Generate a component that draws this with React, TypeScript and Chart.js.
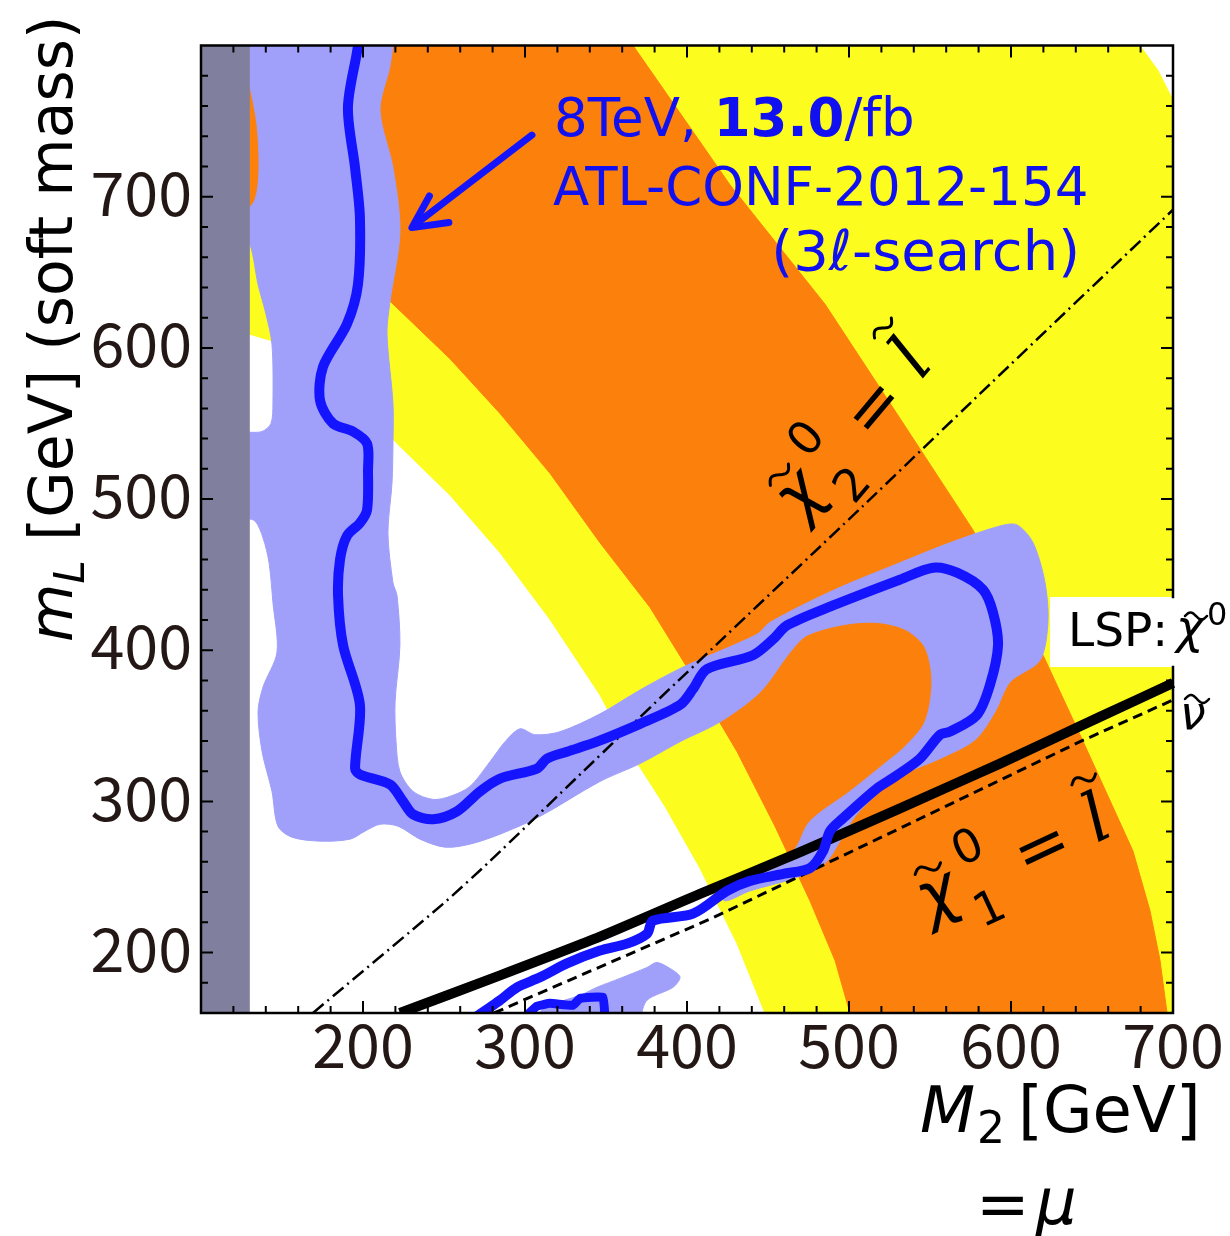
import React, { useEffect, useRef } from 'react';
import { Chart, registerables } from 'chart.js';

Chart.register(...registerables);

// ---------- axes ----------
const X_MIN = 100;
const X_MAX = 700;
const Y_MIN = 160;
const Y_MAX = 800;
const xTickLabels = [200, 300, 400, 500, 600, 700];
const yTickLabels = [200, 300, 400, 500, 600, 700];

// ---------- filled regions (M2, mL) ----------
const yellowRegion = [
  [90, 810], [90, 609.2], [129.6, 609.2], [161.1, 599.3], [192.0, 573.0], [221.0, 536.8],
  [253.7, 502.6], [284.6, 464.5], [315.4, 420.4], [346.3, 370.4], [364.8, 332.9],
  [386.4, 296.7], [408.0, 255.9], [430.9, 205.9], [448.1, 160.0], [451.8, 150],
  [710, 150], [710, 742.5], [700, 763.8], [690.7, 783.6], [679.6, 800], [675, 810],
];
const orangeRegion = [
  [90, 810], [90, 688.2], [129.6, 688.2], [161.1, 668.4], [192.0, 648.7], [216.7, 630.9],
  [253.7, 592.8], [284.6, 556.6], [315.4, 517.1], [346.3, 471.1], [377.2, 428.3],
  [401.9, 385.5], [430.9, 332.9], [454.3, 283.6], [475.9, 234.2], [491.4, 194.7],
  [500.6, 160.0], [503, 150], [697.5, 150], [696.3, 160.0], [692.0, 194.7], [685.8, 227.6],
  [675.3, 267.1], [642.6, 344.1], [619.8, 396.7], [576.5, 479.6], [531.5, 553.3],
  [485.2, 628.9], [426.5, 707.9], [375.3, 786.8], [366.7, 800], [360.2, 810],
];
const lavenderRegion = [
  [124.1, 813.2], [129.6, 777.0], [134.6, 747.4], [135.8, 717.8], [133.3, 698.0], [124.1, 684.9],
  [124.1, 673.7], [130.2, 668.4], [135.2, 642.1], [140.1, 622.4], [143.8, 602.6], [144.4, 563.2],
  [143.2, 550.0], [137.7, 544.7], [124.1, 542.1], [124.1, 489.5], [133.3, 485.5], [138.3, 474.3],
  [142.0, 457.9], [144.4, 431.6], [146.9, 398.7], [138.3, 375.7], [135.2, 359.2], [137.7, 332.9],
  [143.8, 306.6], [147.5, 283.6], [156.2, 276.3], [173.5, 273.7], [192.0, 275.0], [201.2, 280.3],
  [210.5, 284.9], [221.6, 283.6], [235.2, 275.0], [250.6, 269.7], [266.0, 271.7], [284.6, 278.3],
  [309.3, 290.1], [346.3, 313.2], [371.0, 325.0], [395.7, 339.5], [420.4, 352.6], [445.1, 372.4],
  [463.6, 398.7], [474.1, 409.9], [497.5, 417.1], [517.3, 418.4], [534.6, 413.8], [546.9, 402.0],
  [551.2, 379.0], [546.9, 352.6], [534.6, 336.2], [523.5, 326.3], [500.6, 306.6], [475.9, 286.8],
  [465.4, 267.1], [438.9, 252.0], [420.4, 240.8], [423.5, 234.2], [438.9, 240.8], [466.7, 249.3],
  [485.2, 259.2], [494.4, 273.7], [503.7, 290.1], [519.1, 306.6], [534.6, 318.4], [556.2, 328.3],
  [577.8, 340.8], [590.1, 359.2], [599.4, 379.0], [617.9, 393.4], [622.8, 418.4], [621.0, 444.7],
  [613.6, 471.1], [603.7, 482.9], [593.2, 482.2], [562.3, 471.1], [531.5, 457.9], [490.1, 439.5],
  [451.2, 418.4], [443.2, 410.5], [397.5, 388.8], [371.0, 373.7], [346.3, 357.9], [321.6, 346.1],
  [306.2, 344.1], [296.9, 348.0], [287.7, 339.5], [278.4, 326.3], [266.0, 309.9], [253.7, 303.3],
  [243.2, 301.3], [230.9, 306.6], [222.8, 319.7], [220.4, 339.5], [219.8, 365.8], [222.8, 403.3],
  [221.0, 436.2], [218.5, 444.7], [215.4, 477.6], [217.9, 510.5], [218.5, 536.8], [218.5, 563.2],
  [214.8, 609.2], [216.7, 630.9], [222.8, 677.0], [218.5, 719.1], [210.5, 757.2], [216.7, 786.8],
  [219.8, 813.2],
];
const lavenderBlob = [
  [303.1, 156], [315.4, 165.1], [334.0, 171.7], [344.4, 177.0], [358.6, 182.9], [375.3, 190.1],
  [381.5, 193.4], [391.4, 188.2], [395.7, 183.6], [391.4, 177.0], [375.3, 168.4], [371.0, 156],
];
const excludedStrip = [[90, 150], [90, 815], [129.6, 815], [129.6, 150]];

// ---------- lines ----------
const chi2EqualsSlepton = [
  [169.1, 160], [249.4, 232.2], [278.4, 260.5], [335.8, 319.7], [393.8, 379.0],
  [508.6, 495.4], [580.9, 569.7], [700, 691.4],
];
const sneutrinoLine = [[280.9, 160], [416.0, 223.0], [531.5, 282.2], [642.6, 339.5], [700, 367.1]];
const lspBoundary = [
  [222.8, 160], [284.6, 184.9], [346.3, 210.5], [408.0, 238.8], [469.8, 266.4], [531.5, 295.4],
  [593.2, 325.0], [654.9, 355.9], [700, 378.3], [724.7, 390.8],
];
const limitContour = [
  [196.9, 812], [196.9, 800], [190.7, 759.2], [195.1, 719.1], [198.1, 686.2], [196.9, 642.1],
  [190.1, 615.8], [175.3, 587.5], [173.5, 565.1], [181.5, 550.0], [193.8, 544.7], [202.5, 536.8],
  [203.1, 519.1], [202.5, 492.8], [198.1, 484.2], [190.1, 475.7], [185.8, 459.9], [184.6, 436.2],
  [187.7, 403.3], [198.1, 363.8], [195.1, 321.7], [198.1, 317.8], [216.7, 311.2], [224.7, 300.0],
  [230.9, 291.4], [243.2, 288.2], [258.0, 293.4], [272.2, 306.6], [284.6, 315.1], [307.4, 321.7],
  [313.6, 328.3], [325.9, 332.9], [344.4, 339.5], [371.0, 351.3], [395.7, 363.8], [403.7, 374.3],
  [412.3, 387.5], [440.7, 396.7], [453.1, 407.2], [461.7, 416.4], [490.1, 429.6], [531.5, 446.7],
  [551.9, 454.6], [566.7, 451.3], [582.7, 440.1], [588.9, 425.0], [592.0, 403.3], [587.0, 377.0],
  [579.0, 357.2], [562.3, 346.1], [556.2, 344.1], [543.8, 328.3], [528.4, 316.4], [517.3, 308.6],
  [496.3, 288.8], [488.3, 280.3], [484.0, 267.1], [475.9, 255.9], [459.3, 252.0], [438.9, 247.4],
  [424.7, 240.8], [403.7, 225.7], [379.0, 221.1], [375.3, 212.5], [363.0, 205.9], [346.3, 201.3],
  [325.9, 192.8], [309.3, 183.6], [295.1, 177.0], [284.6, 168.4], [278.4, 163.8], [267.9, 156],
];
const limitContourSmall = [
  [298.8, 156], [307.4, 164.5], [315.4, 166.4], [329.6, 165.1], [334.0, 169.7], [348.1, 170.4], [349.4, 156],
];
const arrowShaft = [[304.3, 740.8], [232.0, 681.5]];
const arrowHead = [[241.0, 700.5], [230.2, 679.6], [253.0, 683.0]];

// ---------- styling ----------
const COL = {
  yellow: '#fcfc1f',
  orange: '#fc800c',
  lavender: '#a0a0fa',
  gray: '#80809e',
  blue: '#1414ff',
  tick: '#231815',
  text: '#1010f0',
};
const LSP_BOX = { x0: 1050, y0: 597, x1: 1230, y1: 667 };

const toPts = (a: number[][]) => a.map(([x, y]) => ({ x, y }));

function region(label: string, data: number[][], color: string, tension = 0) {
  return {
    label, data: toPts(data), showLine: true, fill: 'shape', backgroundColor: color,
    borderColor: color, borderWidth: 1, pointRadius: 0, pointHoverRadius: 0, tension,
  };
}
function curve(label: string, data: number[][], color: string, width: number, extra: any = {}) {
  return {
    label, data: toPts(data), showLine: true, fill: false, borderColor: color,
    backgroundColor: color, borderWidth: width, pointRadius: 0, pointHoverRadius: 0,
    tension: 0, borderJoinStyle: 'round', ...extra,
  };
}

function tilde(ctx: CanvasRenderingContext2D, cx: number, cy: number, w: number, h: number, lw: number) {
  ctx.save();
  ctx.lineWidth = lw;
  ctx.lineCap = 'round';
  ctx.beginPath();
  for (let i = 0; i <= 30; i++) {
    const t = i / 30;
    const x = cx - w / 2 + t * w;
    const y = cy - (h / 2) * Math.sin(2 * Math.PI * t);
    if (i === 0) ctx.moveTo(x, y); else ctx.lineTo(x, y);
  }
  ctx.stroke();
  ctx.restore();
}

function chiLabel(ctx: CanvasRenderingContext2D, px: number, py: number, deg: number, sub: string) {
  ctx.save();
  ctx.translate(px, py);
  ctx.rotate((deg * Math.PI) / 180);
  ctx.fillStyle = '#000';
  ctx.strokeStyle = '#000';
  ctx.textAlign = 'center';
  ctx.textBaseline = 'alphabetic';
  ctx.font = 'italic 66px "DejaVu Sans"';
  ctx.fillText('χ', 0, 22);
  tilde(ctx, 2, -26, 28, 9, 3);
  ctx.font = '46px "DejaVu Sans"';
  ctx.fillText('0', 47, -14);
  ctx.fillText(sub, 41, 51);
  ctx.font = '66px "DejaVu Sans"';
  ctx.fillText('=', 114, 24);
  ctx.font = 'italic 68px "DejaVu Serif"';
  ctx.fillText('l', 176, 22);
  tilde(ctx, 181, -41, 26, 9, 3);
  ctx.restore();
}

const decorPlugin = {
  id: 'decor',
  beforeDatasetDraw(chart: any, args: any) {
    const ds = chart.data.datasets[args.index];
    if (!ds || ds.label !== 'chi2') return;
    const ctx = chart.ctx;
    ctx.save();
    ctx.fillStyle = '#ffffff';
    ctx.fillRect(LSP_BOX.x0, LSP_BOX.y0, LSP_BOX.x1 - LSP_BOX.x0, LSP_BOX.y1 - LSP_BOX.y0);
    ctx.restore();
  },
  afterDatasetsDraw(chart: any) {
    const { ctx, chartArea: a, scales } = chart;
    const xs = scales.x;
    const ys = scales.y;
    ctx.save();
    ctx.strokeStyle = '#000';
    ctx.lineWidth = 2.5;
    ctx.lineCap = 'square';
    ctx.beginPath();
    ctx.moveTo(a.left, a.bottom); ctx.lineTo(a.left, a.top); ctx.lineTo(a.right, a.top);
    ctx.lineTo(a.right, LSP_BOX.y0);
    ctx.moveTo(a.right, LSP_BOX.y1); ctx.lineTo(a.right, a.bottom); ctx.lineTo(a.left, a.bottom);
    ctx.stroke();
    ctx.lineWidth = 2;
    ctx.lineCap = 'butt';
    ctx.beginPath();
    for (let v = X_MIN + 20; v < X_MAX; v += 20) {
      const len = v % 100 === 0 ? 12 : 7;
      const p = xs.getPixelForValue(v);
      ctx.moveTo(p, a.bottom); ctx.lineTo(p, a.bottom - len);
      ctx.moveTo(p, a.top); ctx.lineTo(p, a.top + len);
    }
    for (let v = 180; v < Y_MAX; v += 20) {
      const len = v % 100 === 0 ? 12 : 7;
      const p = ys.getPixelForValue(v);
      ctx.moveTo(a.left, p); ctx.lineTo(a.left + len, p);
      if (p < LSP_BOX.y0 - 2 || p > LSP_BOX.y1 + 2) {
        ctx.moveTo(a.right, p); ctx.lineTo(a.right - len, p);
      }
    }
    ctx.stroke();
    ctx.restore();
  },
  afterDraw(chart: any) {
    const ctx: CanvasRenderingContext2D = chart.ctx;
    ctx.save();
    ctx.textAlign = 'left';
    ctx.textBaseline = 'alphabetic';

    // blue annotation
    ctx.fillStyle = COL.text;
    let x = 554;
    ctx.font = '53px "DejaVu Sans"';
    ctx.fillText('8TeV, ', x, 136);
    x += ctx.measureText('8TeV, ').width;
    ctx.font = 'bold 53px "DejaVu Sans"';
    ctx.fillText('13.0', x, 136);
    x += ctx.measureText('13.0').width;
    ctx.font = '53px "DejaVu Sans"';
    ctx.fillText('/fb', x, 136);
    ctx.fillText('ATL-CONF-2012-154', 553, 205);
    ctx.font = '56px "DejaVu Sans"';
    ctx.textAlign = 'right';
    ctx.fillText('(3ℓ-search)', 1080, 270);
    ctx.textAlign = 'left';

    // LSP label
    ctx.fillStyle = '#000';
    ctx.strokeStyle = '#000';
    ctx.font = '47px "DejaVu Sans"';
    ctx.fillText('LSP:', 1068, 646);
    ctx.font = 'italic 47px "DejaVu Sans"';
    ctx.fillText('χ', 1176, 643);
    tilde(ctx, 1196, 616, 22, 7, 2.5);
    ctx.font = '32px "DejaVu Sans"';
    ctx.fillText('0', 1207, 625);

    // sneutrino label
    ctx.font = 'italic 46px "DejaVu Sans"';
    ctx.fillText('ν', 1180, 729);
    tilde(ctx, 1197, 699, 24, 8, 2.5);

    // rotated line labels
    chiLabel(ctx, 798, 493, -50, '2');
    chiLabel(ctx, 937, 893, -25, '1');

    // x title
    ctx.font = 'italic 64px "DejaVu Sans"';
    ctx.fillText('M', 920, 1132);
    ctx.font = '44px "DejaVu Sans"';
    ctx.fillText('2', 977, 1143);
    ctx.font = '64px "DejaVu Sans"';
    ctx.fillText('[GeV]', 1018, 1132);
    ctx.fillText('=', 976, 1226);
    ctx.font = 'italic 64px "DejaVu Sans"';
    ctx.fillText('μ', 1036, 1224);

    // y title
    ctx.save();
    ctx.translate(72, 642);
    ctx.rotate(-Math.PI / 2);
    ctx.font = 'italic 60px "DejaVu Sans"';
    ctx.fillText('m', 0, 0);
    let yx = ctx.measureText('m').width;
    ctx.font = 'italic 42px "DejaVu Sans"';
    ctx.fillText('L', yx, 12);
    yx += ctx.measureText('L').width;
    ctx.font = '60px "DejaVu Sans"';
    ctx.fillText(' [GeV] (soft mass)', yx, 0);
    ctx.restore();

    ctx.restore();
  },
};

export default function App() {
  const ref = useRef<HTMLCanvasElement | null>(null);

  useEffect(() => {
    if (!ref.current) return;
    const layers: any[] = [
      region('yellow', yellowRegion, COL.yellow),
      region('orange', orangeRegion, COL.orange),
      region('lavender', lavenderRegion, COL.lavender, 0.3),
      region('lavenderBlob', lavenderBlob, COL.lavender, 0.3),
      region('excluded', excludedStrip, COL.gray),
      curve('chi2', chi2EqualsSlepton, '#000', 2.5, { borderDash: [14, 5, 2, 5], tension: 0.2 }),
      curve('sneutrino', sneutrinoLine, '#000', 3, { borderDash: [10, 6] }),
      curve('lsp', lspBoundary, '#000', 10, { tension: 0.2, clip: { left: 0, top: 0, right: 60, bottom: 0 } }),
      curve('limit', limitContour, COL.blue, 10, { tension: 0.3, borderCapStyle: 'round' }),
      curve('limitSmall', limitContourSmall, COL.blue, 9, { tension: 0.1 }),
      curve('arrowShaft', arrowShaft, COL.blue, 7, { borderCapStyle: 'round', clip: false }),
      curve('arrowHead', arrowHead, COL.blue, 7, { borderCapStyle: 'round', clip: false }),
    ];
    const n = layers.length;
    layers.forEach((d, i) => { d.order = n - i; });

    const chart = new Chart(ref.current, {
      type: 'scatter',
      data: { datasets: layers },
      options: {
        animation: false,
        responsive: false,
        maintainAspectRatio: false,
        devicePixelRatio: 1,
        events: [],
        layout: { padding: { left: 0, top: 40, right: 57, bottom: 0 } },
        plugins: { legend: { display: false }, tooltip: { enabled: false } },
        scales: {
          x: {
            type: 'linear',
            min: X_MIN,
            max: X_MAX,
            afterBuildTicks: (s: any) => { s.ticks = xTickLabels.map((v) => ({ value: v })); },
            afterFit: (s: any) => { s.height = 223; },
            grid: { display: false, drawTicks: false },
            border: { display: false },
            ticks: {
              autoSkip: false, maxRotation: 0, padding: -5, color: COL.tick,
              font: { family: '"Noto Sans CJK JP"', size: 61 },
            },
          },
          y: {
            type: 'linear',
            min: Y_MIN,
            max: Y_MAX,
            afterBuildTicks: (s: any) => { s.ticks = yTickLabels.map((v) => ({ value: v })); },
            afterFit: (s: any) => { s.width = 201; },
            grid: { display: false, drawTicks: false },
            border: { display: false },
            ticks: {
              autoSkip: false, padding: 9, labelOffset: -4, color: COL.tick,
              font: { family: '"Noto Sans CJK JP"', size: 61 },
            },
          },
        },
      },
      plugins: [decorPlugin],
    } as any);
    return () => chart.destroy();
  }, []);

  return (
    <div style={{ position: 'absolute', left: 0, top: 0, width: 1230, height: 1236, background: '#fff' }}>
      <canvas ref={ref} width={1230} height={1236} style={{ display: 'block' }} />
    </div>
  );
}
